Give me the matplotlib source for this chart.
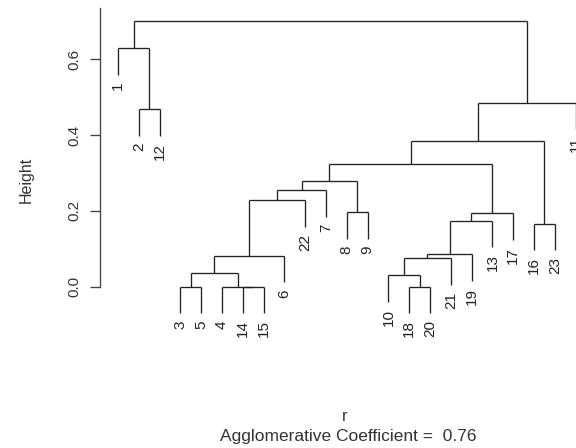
import matplotlib
matplotlib.use("Agg")
from matplotlib import pyplot as plt

# agnes result, R style merge table: negative = observation, positive = earlier step
leaf_order = [1, 2, 12, 3, 5, 4, 14, 15, 6, 22, 7, 8, 9, 10, 18, 20, 21, 19, 13, 17, 16, 23, 11]
merge_left = [-3, -14, -4, 1, 4, -18, -10, 7, 8, 9, 10, -16, -8, 5, 14, 15, 16, 17, 18, -2, -1, 21]
merge_right = [-5, -15, 2, 3, -6, -20, 6, -21, -19, -13, -17, -23, -9, -22, -7, 13, 11, 12, -11, -12, 20, 19]
merge_height = [0.0, 0.0, 0.0, 0.035, 0.082, 0.0, 0.030, 0.075, 0.085, 0.174, 0.194, 0.166,
                0.196, 0.228, 0.255, 0.280, 0.325, 0.384, 0.486, 0.469, 0.630, 0.701]
ac_value = 0.76
yticks = [0.0, 0.2, 0.4, 0.6]

plt.rcParams['font.family'] = ['Liberation Sans', 'DejaVu Sans']

hang = 0.1 * max(merge_height)
line_col = "#222222"

fig = plt.figure(figsize=(5.76, 4.48), dpi=100)
ax = fig.add_axes([99.7 / 576, 1 - 324.9 / 448, 494.3 / 576, 316.9 / 448])


def node_x(k):
    if k < 0:
        return leaf_order.index(-k) + 1
    return (node_x(merge_left[k - 1]) + node_x(merge_right[k - 1])) / 2.0


for i in range(len(merge_height)):
    h = merge_height[i]
    xl = node_x(merge_left[i])
    xr = node_x(merge_right[i])
    ax.plot([xl, xr], [h, h], color=line_col, lw=0.95, solid_capstyle="butt")
    for child in (merge_left[i], merge_right[i]):
        cx = node_x(child)
        if child < 0:
            bottom = h - hang
            ax.plot([cx, cx], [h, bottom], color=line_col, lw=0.95, solid_capstyle="butt")
            # the last leaf label runs off the right edge, as in the original
            ax.annotate(str(-child), xy=(cx, bottom), xytext=(0, -5), textcoords="offset points",
                        rotation=90, ha="center", va="top", fontsize=11, color="#222222",
                        annotation_clip=False)
        else:
            ax.plot([cx, cx], [h, merge_height[child - 1]], color=line_col, lw=0.95,
                    solid_capstyle="butt")

n = len(leaf_order)
ax.set_xlim(1 - 0.04 * (n - 1), n + 0.04 * (n - 1))
ax.set_ylim(-0.101, 0.736)
for s in ["top", "right", "bottom"]:
    ax.spines[s].set_visible(False)
ax.spines["left"].set_bounds(0, 0.736)
ax.spines["left"].set_color("#444444")
ax.spines["left"].set_linewidth(0.95)
ax.set_xticks([])
ax.set_yticks(yticks)
ax.set_yticklabels(["%.1f" % v for v in yticks], rotation=90, va="center", fontsize=11,
                   color="#333333")
ax.tick_params(axis="y", length=7.5, width=0.95, color="#444444", pad=6)

fig.text(26 / 576, 1 - 180 / 448, "Height", rotation=90, ha="center", va="center",
         fontsize=11.5, color="#333333")
fig.text(345 / 576, 1 - 416 / 448, "r", ha="center", va="center", fontsize=12, color="#333333")
fig.text(348 / 576, 1 - 436 / 448, "Agglomerative Coefficient =  %.2f" % ac_value,
         ha="center", va="center", fontsize=12.5, color="#333333")

fig.savefig("out.png", dpi=100)
